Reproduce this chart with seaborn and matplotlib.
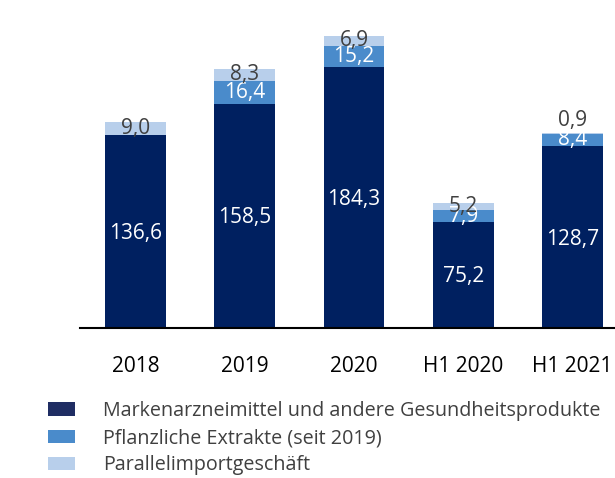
import matplotlib
matplotlib.use("Agg")
import matplotlib.pyplot as plt
import seaborn as sns
import pandas as pd
from matplotlib.patches import Patch

categories = ["2018", "2019", "2020", "H1 2020", "H1 2021"]
marken = [136.6, 158.5, 184.3, 75.2, 128.7]
pflanzen = [0.0, 16.4, 15.2, 7.9, 8.4]
parallel = [9.0, 8.3, 6.9, 5.2, 0.9]
series_names = ["Markenarzneimittel und andere Gesundheitsprodukte",
                "Pflanzliche Extrakte (seit 2019)",
                "Parallelimportgeschäft"]

c_dark = "#002060"
c_mid = "#4A8BCB"
c_light = "#B8CFEB"

sns.set_theme(style="white")
plt.rcParams["font.family"] = ["Open Sans", "DejaVu Sans"]

W, H = 615, 478
fig = plt.figure(figsize=(W / 100, H / 100), dpi=100)
ax_left, ax_right, ax_bottom, ax_top = 80, 615, 328, 16.7
ax = fig.add_axes([ax_left / W, 1 - ax_bottom / H, (ax_right - ax_left) / W, (ax_bottom - ax_top) / H])

df = pd.DataFrame({"cat": categories, "marken": marken, "pflanzen": pflanzen, "parallel": parallel})
bottom2 = [a + b for a, b in zip(marken, pflanzen)]
bw = 0.558
sns.barplot(data=df, x="cat", y="marken", color=c_dark, saturation=1, width=bw, ax=ax, linewidth=0)
sns.barplot(data=df, x="cat", y="pflanzen", color=c_mid, saturation=1, width=bw, ax=ax, linewidth=0, bottom=marken)
sns.barplot(data=df, x="cat", y="parallel", color=c_light, saturation=1, width=bw, ax=ax, linewidth=0, bottom=bottom2)

fmt = lambda v: f"{v:.1f}".replace(".", ",")
fs = 15
for i in range(len(categories)):
    ax.text(i, marken[i] / 2 - 1.5, fmt(marken[i]), ha="center", va="center", color="white", fontsize=fs)
    if pflanzen[i] > 0:
        ax.text(i, marken[i] + pflanzen[i] / 2, fmt(pflanzen[i]), ha="center", va="center", color="white", fontsize=fs)
    top = bottom2[i] + parallel[i]
    if parallel[i] >= 2:
        ax.text(i, bottom2[i] + parallel[i] / 2, fmt(parallel[i]), ha="center", va="center", color="#404040", fontsize=fs)
    else:
        ax.text(i, top + 1.5, fmt(parallel[i]), ha="center", va="bottom", color="#404040", fontsize=fs)

ax.set_xlim(-0.508, 4.389)
ax.set_ylim(0, 220)
ax.set_xlabel("")
ax.set_ylabel("")
ax.set_yticks([])
for s in ["top", "right", "left"]:
    ax.spines[s].set_visible(False)
ax.spines["bottom"].set_color("#000000")
ax.spines["bottom"].set_linewidth(1.5)
ax.tick_params(axis="x", length=0, pad=20, labelsize=15, colors="#000000")

handles = [Patch(facecolor=c, edgecolor="none") for c in ["#1F2D63", c_mid, c_light]]
fig.legend(handles, series_names, loc="upper left", bbox_to_anchor=(48 / W, 1 - 401 / H),
           frameon=False, fontsize=14.2, handlelength=1.37, handleheight=0.65,
           handletextpad=1.42, labelspacing=0.36, borderaxespad=0, borderpad=0,
           labelcolor="#404040")

fig.savefig("out.png", dpi=100)
